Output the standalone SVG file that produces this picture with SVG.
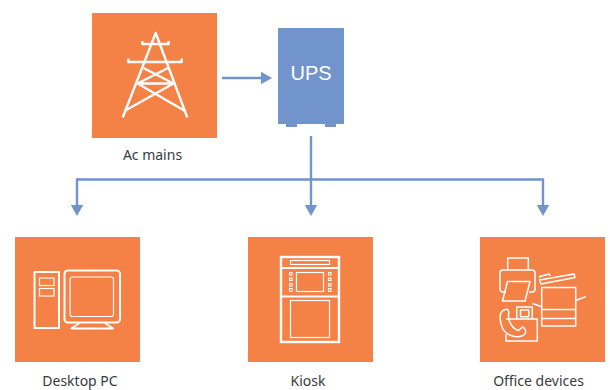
<svg xmlns="http://www.w3.org/2000/svg" width="610" height="390" viewBox="0 0 610 390">
<style>
.sq{fill:#f48146}
.lbl{font-family:"Noto Sans","Open Sans",sans-serif;font-size:14px;fill:#3a3a3c;text-anchor:middle}
.w2{fill:none;stroke:#fff;stroke-width:2;stroke-linejoin:round}
.w1{fill:none;stroke:#fff;stroke-width:1.2}
.w3{fill:none;stroke:#fff;stroke-width:2.4}
.con{fill:none;stroke:#7094cb;stroke-width:2.4}
.bt{fill:none;stroke:#fff;stroke-width:1.1}
</style>
<defs>
<marker id="ah" markerUnits="userSpaceOnUse" markerWidth="13" markerHeight="14" refX="3" refY="6.5" orient="auto"><path d="M0 0L11.500 6.500L0 13Z" fill="#7094cb"/></marker>
</defs>
<rect width="610" height="390" fill="#fff"/>
<g id="connectors">
<path class="con" d="M222 78H263.500" marker-end="url(#ah)"/>
<path class="con" d="M311 136V207.500" marker-end="url(#ah)"/>
<path class="con" d="M77 179.500H543V207.500" marker-end="url(#ah)"/>
<path class="con" d="M77 178.300V207.500" marker-end="url(#ah)"/>
</g>
<g id="ac-mains">
<rect class="sq" x="92" y="13" width="125" height="125"/>
<g class="w2" style="stroke-width:2.4">
<path d="M122.700 117.500L155.700 33L187.300 117.500"/>
<path d="M128.300 58.500V62H181.700V58.500M142.300 41V44H168.700V41"/>
<path d="M143.500 68L173.500 83.500M168 68L137.500 83.500M137.500 83.500H173.500M137.500 83.500L185 111M173.500 83.500L124.500 111"/>
</g>
<text class="lbl" x="152.500" y="160">Ac mains</text>
</g>
<g id="ups">
<rect x="278" y="28" width="66" height="96" fill="#7094cb"/>
<rect x="286" y="124" width="11" height="3" fill="#7094cb"/>
<rect x="325" y="124" width="11" height="3" fill="#7094cb"/>
<text x="311" y="80" font-family="Liberation Sans, Arial, sans-serif" font-size="20" fill="#fff" text-anchor="middle">UPS</text>
</g>
<g id="desktop-pc">
<rect class="sq" x="15" y="237" width="125" height="125"/>
<rect class="w2" x="34.500" y="272" width="24.500" height="56"/>
<rect class="w1" x="39.500" y="278" width="14.500" height="7.500"/>
<rect class="w1" x="39.500" y="288.500" width="14.500" height="7.500"/>
<rect class="w2" x="64.500" y="270.500" width="55.500" height="52" rx="3.500"/>
<rect class="w1" x="70" y="277" width="43.500" height="39.500" rx="2.500"/>
<path class="w2" d="M79.500 323L71.500 328.500H113L105 323"/>
<text class="lbl" x="80" y="386">Desktop PC</text>
</g>
<g id="kiosk">
<rect class="sq" x="248" y="237" width="125" height="125"/>
<rect class="w3" x="281" y="257" width="58" height="85"/>
<path class="w2" d="M281 268H339M281 296.500H339"/>
<rect class="w1" x="290.500" y="260.500" width="39" height="4"/>
<rect class="w1" x="296.500" y="272.500" width="27" height="19"/>
<rect class="w1" x="290.500" y="300.500" width="39" height="37"/>
<g class="bt">
<rect x="289.500" y="272.500" width="2.500" height="2.500"/><rect x="289.500" y="278" width="2.500" height="2.500"/><rect x="289.500" y="283.500" width="2.500" height="2.500"/><rect x="289.500" y="288.500" width="2.500" height="3"/>
<rect x="328.500" y="272.500" width="2.500" height="2.500"/><rect x="328.500" y="278" width="2.500" height="2.500"/><rect x="328.500" y="283.500" width="2.500" height="2.500"/><rect x="328.500" y="288.500" width="2.500" height="3"/>
</g>
<text class="lbl" x="308" y="386">Kiosk</text>
</g>
<g id="office-devices">
<rect class="sq" x="480" y="237" width="125" height="125"/>
<g class="w1" style="stroke-width:1.500;stroke-linejoin:round">
<path d="M507.700 270V258H528.300V270"/>
<path d="M506 292H503Q500 292 500 289V273Q500 270 503 270H532Q535 270 535 273V289Q535 292 532 292H529"/>
<path d="M507.500 281.500H530L525 301H502.500Z"/>
<rect x="541.700" y="287.500" width="34" height="38.500"/>
<path d="M541.700 309.500H575.700M541.700 318.500H575.700"/>
<path d="M539.500 280L574 274L575 277.500L541 284Z"/>
<path d="M540 278L539.500 276.500L549.500 274L550 276"/>
<path d="M575.700 300.500L585.700 296.800M532.500 303.500L541.700 306.800"/>
<path d="M506 319H537.300V341H506V334"/>
<path d="M516.700 319V307H532.300V319"/>
<rect x="520.500" y="310" width="8.200" height="6.800"/>
<path d="M505.500 309.500C499 311 499 318 502 327C505 335 516 339 523 335.500C527.500 333 526 329 522.500 327L518.500 330.500C513 329 508 322 508.500 314.500C509.500 311 508 308.500 505.500 309.500Z"/>
</g>
<text class="lbl" x="538.500" y="386">Office devices</text>
</g>
</svg>
